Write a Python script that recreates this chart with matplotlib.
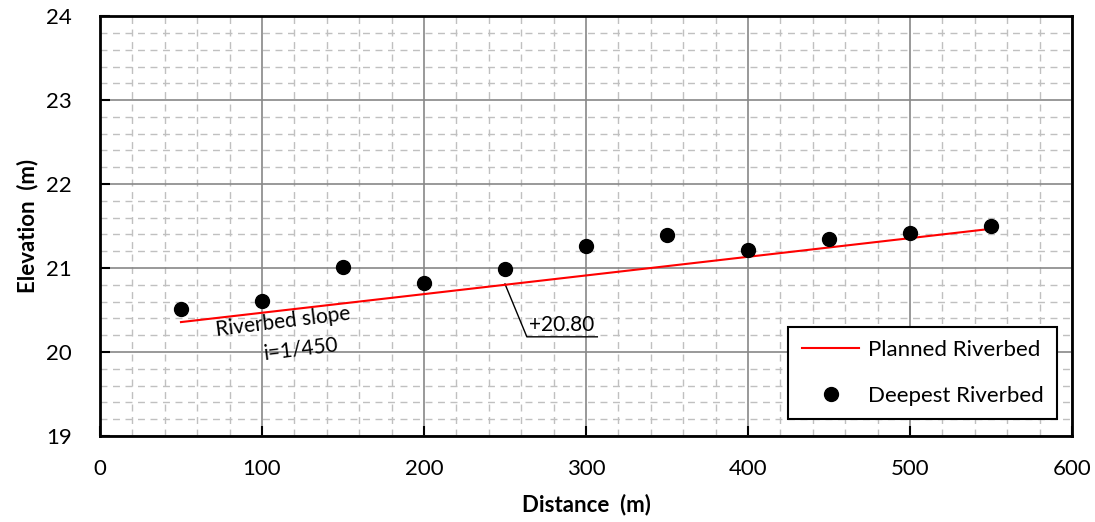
import matplotlib.pyplot as plt
from matplotlib.ticker import MultipleLocator

plt.rcParams['font.family'] = ['Lato', 'DejaVu Sans']

# deepest riverbed survey points
distance = [50, 100, 150, 200, 250, 300, 350, 400, 450, 500, 550]
deepest = [20.51, 20.61, 21.01, 20.82, 20.99, 21.26, 21.39, 21.21, 21.35, 21.42, 21.50]

# planned riverbed, slope 1/450 through +20.80 at 250 m
planned_x = [50, 550]
planned_y = [20.80 + (x - 250) / 450 for x in planned_x]

fig = plt.figure(figsize=(10.95, 5.22), dpi=100)
ax = fig.add_axes([0.0913, 0.165, 0.8877, 0.804])

ax.plot(planned_x, planned_y, color='red', lw=1.5, label='Planned Riverbed', zorder=3)
ax.plot(distance, deepest, 'o', color='black', ms=10, label='Deepest Riverbed', zorder=4)

ax.set_xlim(0, 600)
ax.set_ylim(19, 24)
ax.xaxis.set_major_locator(MultipleLocator(100))
ax.xaxis.set_minor_locator(MultipleLocator(20))
ax.yaxis.set_major_locator(MultipleLocator(1))
ax.yaxis.set_minor_locator(MultipleLocator(0.2))
ax.grid(which='major', color='#888888', lw=1.2, zorder=0)
ax.grid(which='minor', color='#c0c0c0', lw=1.0, ls=(0, (5, 4)), zorder=0)
ax.tick_params(which='major', direction='in', length=7, width=1.5, labelsize=16)
ax.tick_params(axis='x', pad=17)
ax.tick_params(axis='y', pad=20)
ax.tick_params(which='minor', length=0)
for s in ax.spines.values():
    s.set_linewidth(2)

ax.set_xlabel('Distance  (m)', fontsize=16, fontweight='bold', labelpad=10)
ax.set_ylabel('Elevation  (m)', fontsize=16, fontweight='bold', labelpad=6)

# annotations
ax.text(113, 20.36, 'Riverbed slope', fontsize=15, rotation=7, ha='center', va='center')
ax.text(124, 20.03, 'i=1/450', fontsize=15, rotation=7, ha='center', va='center')
ax.plot([250, 263.5, 307], [20.81, 20.18, 20.18], color='black', lw=1)
ax.text(265, 20.2, '+20.80', fontsize=15, ha='left', va='bottom')

leg = ax.legend(loc='lower right', bbox_to_anchor=(0.985, 0.04), borderaxespad=0,
                fontsize=16, frameon=True, fancybox=False, edgecolor='black',
                framealpha=1, borderpad=0.6, labelspacing=1.15, handlelength=2.6,
                handletextpad=0.4)
leg.get_frame().set_linewidth(1.5)

fig.savefig('out.png', dpi=100)
